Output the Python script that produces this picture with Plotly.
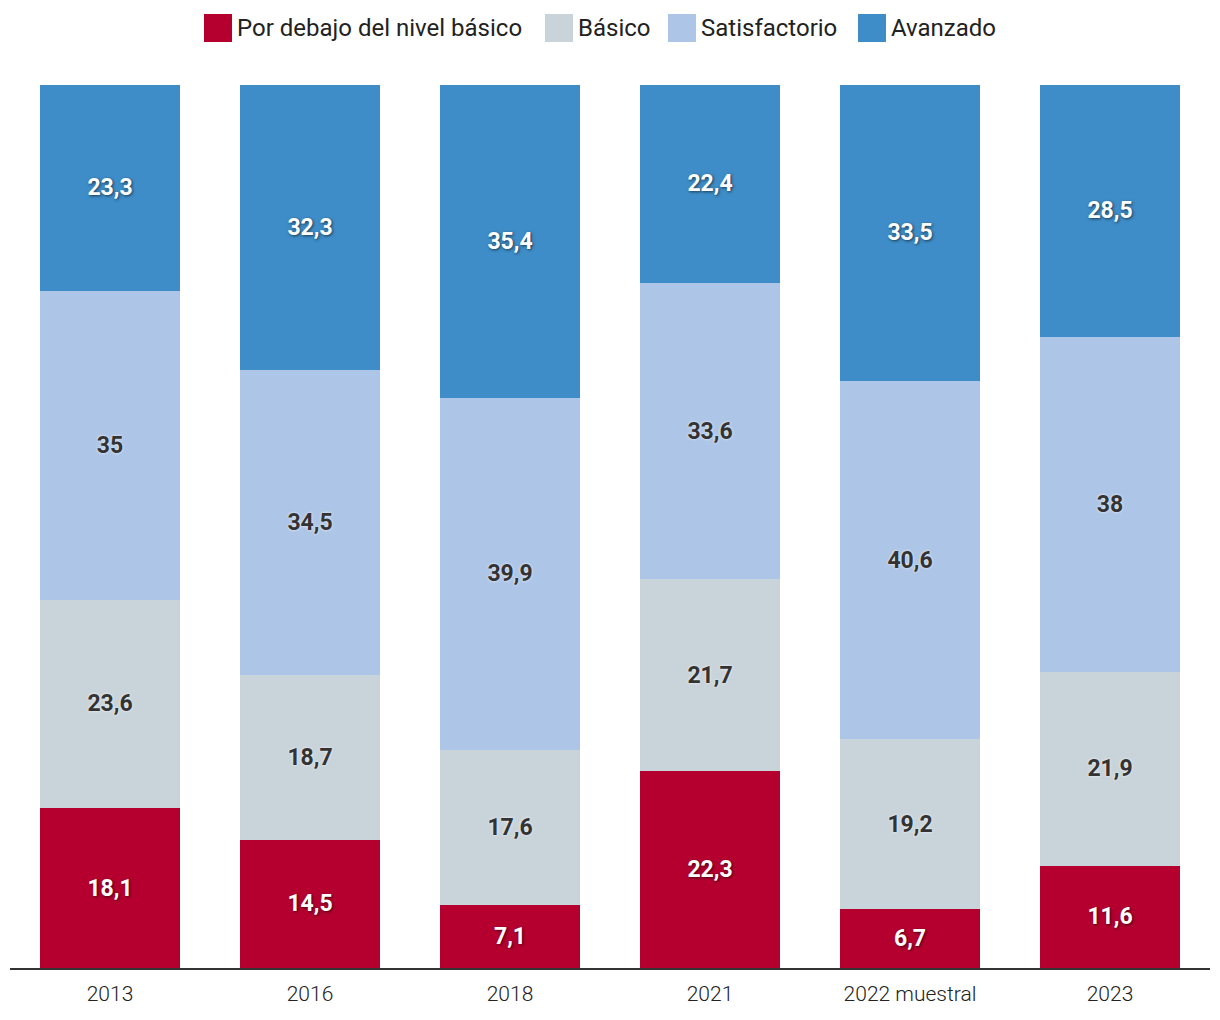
import plotly.graph_objects as go

years = ["2013", "2016", "2018", "2021", "2022 muestral", "2023"]
below = [18.1, 14.5, 7.1, 22.3, 6.7, 11.6]
basic = [23.6, 18.7, 17.6, 21.7, 19.2, 21.9]
satisf = [35, 34.5, 39.9, 33.6, 40.6, 38]
advanced = [23.3, 32.3, 35.4, 22.4, 33.5, 28.5]

series = [
    ("Por debajo del nivel básico", below, "#B5002F", "white", "1px 1px 3px rgba(0,0,0,0.6)"),
    ("Básico", basic, "#C8D3DA", "#333333", "0px 0px 3px rgba(255,255,255,0.9)"),
    ("Satisfactorio", satisf, "#ADC5E6", "#333333", "0px 0px 3px rgba(255,255,255,0.9)"),
    ("Avanzado", advanced, "#3E8DC8", "white", "1px 1px 3px rgba(0,0,0,0.6)"),
]

# legend swatch left edges (figure pixels) -- layout only
legend_left = [196, 537, 660, 850]

W, H = 1220, 1020
ML, MR, MT, MB = 2, 18, 77, 60
PW, PH = W - ML - MR, H - MT - MB

def fmt(v):
    return ("%g" % v).replace(".", ",")

def px_to_paper_x(px):
    return (px - ML) / PW

def py_to_paper_y(py):
    return 1 + (MT - py) / PH

fig = go.Figure()
for name, vals, color, tcolor, shadow in series:
    fig.add_trace(go.Bar(
        x=years, y=vals, name=name,
        marker=dict(color=color, line=dict(width=0)),
        text=[fmt(v) for v in vals],
        textposition="inside", insidetextanchor="middle",
        textangle=0,
        textfont=dict(family="Roboto", size=23, color=tcolor, weight="bold", shadow=shadow),
        hoverinfo="skip", showlegend=False,
    ))

# manual legend with large square swatches
sw = 28
cy = 20
for (name, vals, color, tcolor, shadow), lx in zip(series, legend_left):
    fig.add_shape(type="rect", xref="paper", yref="paper",
                  x0=px_to_paper_x(lx), x1=px_to_paper_x(lx + sw),
                  y0=py_to_paper_y(cy + sw / 2), y1=py_to_paper_y(cy - sw / 2),
                  fillcolor=color, line=dict(width=0), layer="above")
    fig.add_annotation(text=name, xref="paper", yref="paper",
                       x=px_to_paper_x(lx + sw + 3), y=py_to_paper_y(cy),
                       xanchor="left", yanchor="middle", showarrow=False,
                       font=dict(family="Roboto", size=24, color="#222222"))

fig.update_layout(
    width=W, height=H,
    barmode="stack", bargap=0.3,
    margin=dict(l=ML, r=MR, t=MT, b=MB),
    paper_bgcolor="white", plot_bgcolor="white",
    showlegend=False,
    xaxis=dict(showgrid=False, showline=True, linecolor="#333333", linewidth=2,
               ticks="", ticklabelstandoff=6,
               tickfont=dict(family="Roboto", size=21, color="#222222", weight=300),
               fixedrange=True),
    yaxis=dict(range=[0, 100], showgrid=False, showticklabels=False, zeroline=False,
               showline=False, fixedrange=True),
)

fig.write_html("out.html")
